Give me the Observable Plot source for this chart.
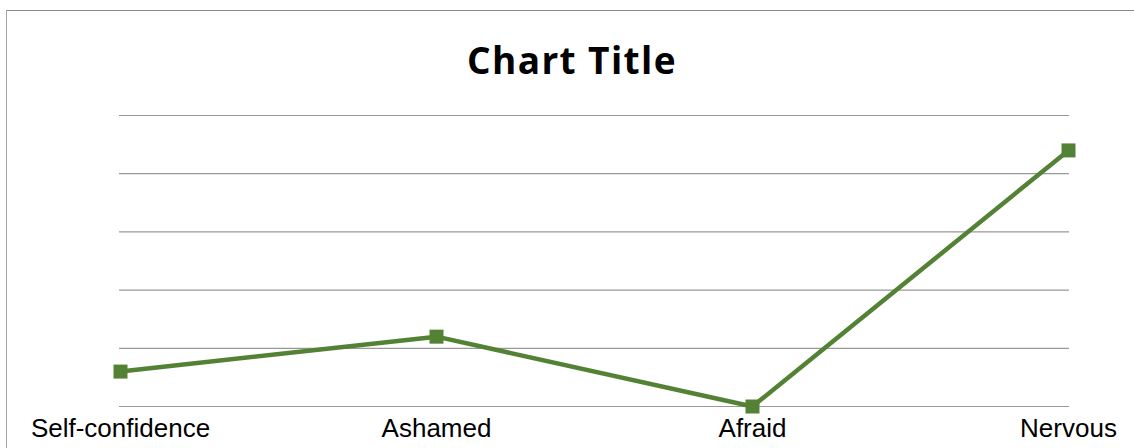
<!DOCTYPE html>
<html>
<head>
<meta charset="utf-8">
<script src="https://cdn.jsdelivr.net/npm/d3@7"></script>
<script src="https://cdn.jsdelivr.net/npm/@observablehq/plot@0.6"></script>
<style>
  html, body { margin: 0; padding: 0; background: #fff; }
  #wrap { position: relative; width: 1134px; height: 448px; overflow: hidden; background: #fff; }
  #frame { position: absolute; left: 6px; top: 10px; width: 1140px; height: 460px;
           border-top: 1px solid #8a8a8a; border-left: 1px solid #a6a6a6; box-sizing: border-box; }
  #title { position: absolute; left: 0; top: 0; width: 1144px; height: 100px; text-align: center;
           font-family: "Open Sans", Lato, sans-serif; font-weight: 700; font-size: 37px; letter-spacing: 1.4px;
           line-height: 1; padding-top: 41px; box-sizing: border-box; color: #000; }
  #chart { position: absolute; left: 0; top: 100px; }
</style>
</head>
<body>
<div id="wrap">
  <div id="frame"></div>
  <div id="title">Chart Title</div>
  <div id="chart"></div>
</div>
<script>
const categories = ["Self-confidence", "Ashamed", "Afraid", "Nervous"];
const values = [0.6, 1.2, 0.0, 4.4];
const gridTicks = [0, 1, 2, 3, 4, 5];

const data = categories.map((c, i) => ({category: c, value: values[i]}));
const green = "#548235";

const plot = Plot.plot({
  width: 1134,
  height: 348,
  marginLeft: 119,
  marginRight: 65,
  marginTop: 15,
  marginBottom: 42,
  style: {background: "transparent", fontFamily: "'Liberation Sans', Arial, sans-serif", fontSize: "26px", color: "#000"},
  x: {type: "point", domain: categories, padding: 0, label: null},
  y: {domain: [0, 5], axis: null},
  marks: [
    Plot.ruleY(gridTicks, {stroke: "#999", strokeWidth: 1.2}),
    Plot.axisX({tickSize: 0, tickPadding: 12, label: null, fontSize: 26, fill: "#000"}),
    Plot.line(data, {x: "category", y: "value", stroke: green, strokeWidth: 4.5, strokeLinejoin: "miter"}),
    Plot.dot(data, {x: "category", y: "value", symbol: "square", r: 7.9, fill: green, stroke: "none"})
  ]
});
document.getElementById("chart").appendChild(plot);
</script>
</body>
</html>
